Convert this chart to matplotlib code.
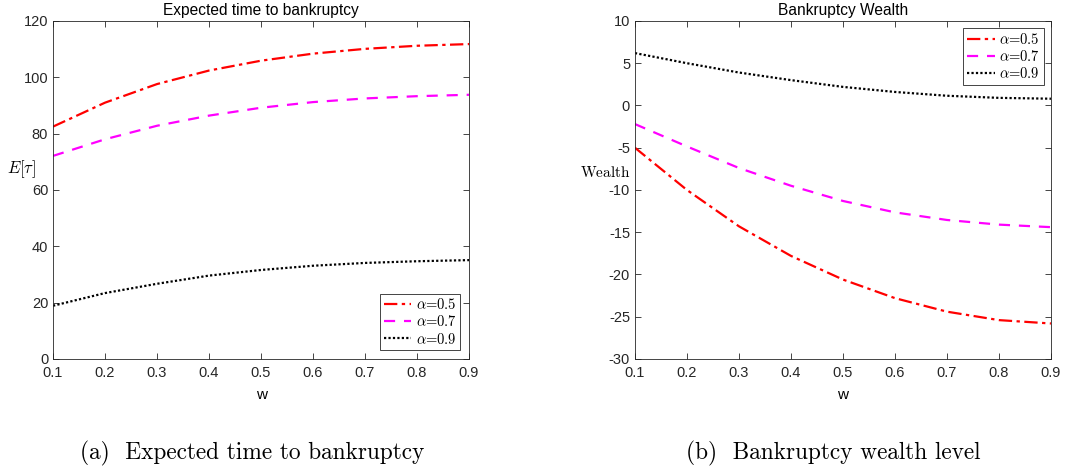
import matplotlib
matplotlib.use("Agg")
import matplotlib.pyplot as plt

plt.rcParams["font.family"] = ["Liberation Sans", "DejaVu Sans"]
plt.rcParams["mathtext.fontset"] = "cm"

w = [0.1, 0.2, 0.3, 0.4, 0.5, 0.6, 0.7, 0.8, 0.9]
alphas = ["0.5", "0.7", "0.9"]

# expected time to bankruptcy, one list per alpha
time_a05 = [82.5, 91.0, 97.6, 102.4, 105.9, 108.4, 110.1, 111.2, 111.8]
time_a07 = [72.1, 78.0, 82.8, 86.4, 89.2, 91.2, 92.5, 93.3, 93.8]
time_a09 = [18.9, 23.4, 26.7, 29.6, 31.6, 33.1, 34.1, 34.7, 35.1]

# bankruptcy wealth level, one list per alpha
wealth_a05 = [-5.0, -10.0, -14.3, -17.8, -20.6, -22.8, -24.4, -25.4, -25.8]
wealth_a07 = [-2.2, -4.85, -7.4, -9.5, -11.3, -12.65, -13.55, -14.1, -14.4]
wealth_a09 = [6.2, 5.0, 3.9, 3.0, 2.2, 1.6, 1.15, 0.9, 0.8]

styles = [
    dict(color="red", linestyle=(0, (6, 2, 1.5, 2))),
    dict(color="magenta", linestyle=(0, (5, 4))),
    dict(color="black", linestyle=(0, (1, 1))),
]

fig = plt.figure(figsize=(10.78, 4.67), dpi=100)
ax1 = fig.add_axes([0.0492, 0.2313, 0.3859, 0.7238])
ax2 = fig.add_axes([0.589, 0.2313, 0.3859, 0.7238])


def style_axes(ax):
    ax.tick_params(direction="in", top=True, right=True, labelsize=10.5,
                   length=4, width=0.6, colors="#262626")
    ax.tick_params(axis="x", pad=5)
    ax.tick_params(axis="y", pad=3.5)
    for s in ax.spines.values():
        s.set_linewidth(0.6)
        s.set_color("#262626")
    ax.set_xlim(0.1, 0.9)
    ax.set_xticks([0.1, 0.2, 0.3, 0.4, 0.5, 0.6, 0.7, 0.8, 0.9])
    ax.set_xlabel("w", fontsize=11, labelpad=6)


def add_legend(ax, loc, pad):
    leg = ax.legend(loc=loc, prop=dict(family="cmr10", size=10.5),
                    fancybox=False, edgecolor="#262626", framealpha=1,
                    handlelength=1.9, borderaxespad=pad, labelspacing=0.15,
                    borderpad=0.25, handletextpad=0.3)
    leg.get_frame().set_linewidth(0.6)


for ys, a, st in zip([time_a05, time_a07, time_a09], alphas, styles):
    ax1.plot(w, ys, lw=1.6, label=r"$\alpha$=" + a, **st)
for ys, a, st in zip([wealth_a05, wealth_a07, wealth_a09], alphas, styles):
    ax2.plot(w, ys, lw=1.6, label=r"$\alpha$=" + a, **st)

style_axes(ax1)
ax1.set_ylim(0, 120)
ax1.set_yticks(range(0, 121, 20))
ax1.set_title("Expected time to bankruptcy", fontsize=11.2, pad=4)
ax1.set_ylabel(r"$E[\tau]$", rotation=0, fontsize=12)
ax1.yaxis.set_label_coords(-0.075, 0.53)
add_legend(ax1, "lower right", 0.6)

style_axes(ax2)
ax2.set_ylim(-30, 10)
ax2.set_yticks(range(-30, 11, 5))
ax2.set_yticklabels([str(v) for v in range(-30, 11, 5)])
ax2.set_title("Bankruptcy Wealth", fontsize=11.2, pad=4)
ax2.set_ylabel(r"$\mathrm{Wealth}$", rotation=0, fontsize=11)
ax2.yaxis.set_label_coords(-0.072, 0.53)
add_legend(ax2, "upper right", 0.5)

fig.text(0.234, 0.03, "(a)  Expected time to bankruptcy", family="cmr10",
         fontsize=16.8, ha="center", va="center")
fig.text(0.773, 0.03, "(b)  Bankruptcy wealth level", family="cmr10",
         fontsize=16.8, ha="center", va="center")

fig.savefig("out.png", dpi=100)
